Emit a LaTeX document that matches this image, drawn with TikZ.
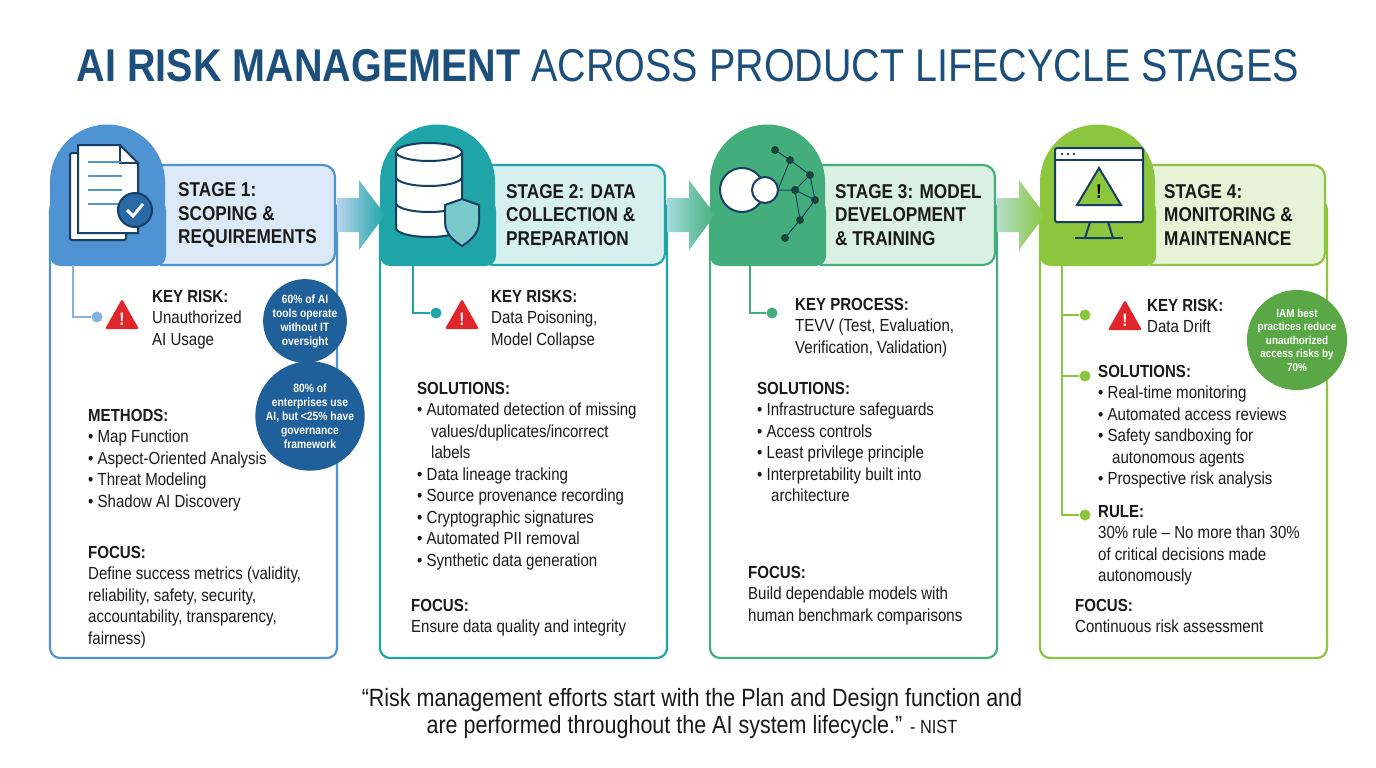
\documentclass[tikz,border=0pt]{standalone}
\usepackage{fontspec}
\usepackage{graphicx}
\setmainfont{Liberation Sans}[FakeStretch=0.86]
\definecolor{cA}{HTML}{4F93D3}\definecolor{lA}{HTML}{DCEAF8}
\definecolor{cB}{HTML}{1FA5A8}\definecolor{lB}{HTML}{D6EFEF}
\definecolor{cC}{HTML}{43AE7C}\definecolor{lC}{HTML}{D9F0E3}
\definecolor{cD}{HTML}{8CC63F}\definecolor{lD}{HTML}{E6F3D6}
\definecolor{navy}{HTML}{1D4F7C}\definecolor{dblue}{HTML}{1F5F9A}
\definecolor{gcirc}{HTML}{5AA845}\definecolor{warn}{HTML}{E0262B}
\definecolor{txt}{HTML}{1A1A1A}
\tikzset{
 body/.style={font=\fontsize{17.5}{21.5}\selectfont,text=txt,align=left,anchor=north west,inner sep=0pt},
 head/.style={font=\fontsize{20}{23.5}\selectfont\bfseries,text=txt,align=left,anchor=west,inner sep=0pt},
 stat/.style={circle,text=white,align=center,font=\fontsize{12}{14}\selectfont\bfseries,inner sep=0pt},
 dot/.style={circle,inner sep=0pt,minimum size=11pt},
}
\newcommand{\warnsign}[2]{%
 \fill[warn,rounded corners=2pt] ($(#1)+(0,-17)$) -- ($(#1)+(17,13)$) -- ($(#1)+(-17,13)$) -- cycle;
 \node[text=white,font=\fontsize{18}{18}\selectfont\bfseries] (#2) at ($(#1)+(0,3)$) {!};}
\usetikzlibrary{calc}
\begin{document}
\begin{tikzpicture}[x=1pt,y=-1pt]
\useasboundingbox[fill=white] (0,0) rectangle (1376,768);
% title
\node (title) at (688,66) {\resizebox{1222pt}{!}{\color{navy}\fontsize{40}{40}\selectfont\textbf{AI RISK MANAGEMENT} ACROSS PRODUCT LIFECYCLE STAGES}};
% cards
\foreach \x/\c/\l in {50/cA/lA,380/cB/lB,710/cC/lC,1040/cD/lD}{
 \draw[\c,line width=2.2pt,rounded corners=10pt] (\x,200) rectangle ({\x+287},658);
 \draw[\c,line width=2.2pt,fill=\l,rounded corners=12pt] ({\x+110},165) -- ({\x+285},165) -- ({\x+285},265) -- ({\x+110},265);
 \fill[\c,rounded corners=10pt] ({\x},200) rectangle ({\x+116},266);
 \fill[\c] (\x,240) -- (\x,182) arc (180:360:57.5) -- ({\x+115},240) -- cycle;
}
% arrows
\foreach \x/\a/\b in {337/cA/cB,667/cB/cC,997/cC/cD}{
 \shade[left color=\a!40,right color=\b] (\x,198) -- ({\x+22},198) -- ({\x+22},180) -- ({\x+48},215) -- ({\x+22},250) -- ({\x+22},232) -- (\x,232) -- cycle;
}
% headers
\node[head] (h1) at (178,215) {STAGE 1:\\SCOPING \&\\REQUIREMENTS};
\node[head] (h2) at (506,215) {STAGE 2: DATA\\COLLECTION \&\\PREPARATION};
\node[head] (h3) at (835,215) {STAGE 3: MODEL\\DEVELOPMENT\\\& TRAINING};
\node[head] (h4) at (1164,215) {STAGE 4:\\MONITORING \&\\MAINTENANCE};
\begin{scope}[line width=2pt,draw=navy!80!black]
% icon 1: documents
\draw[fill=white,rounded corners=2pt] (70,153) rectangle (126,240);
\draw[fill=white] (78,145) -- (120,145) -- (138,163) -- (138,233) -- (78,233) -- cycle;
\draw (120,145) -- (120,163) -- (138,163);
\foreach \y in {162,176,190,204}{\draw[cA,line width=1.5pt] (88,\y) -- (122,\y);}
\draw[fill=dblue!80!cA] (135,210) circle (17);
\draw[white,line width=3pt] (127,210) -- (133,216) -- (143,204);
% icon 2: database cylinder
\draw[fill=white] (396,152) -- (396,228) arc (180:0:33 and 9) -- (462,152);
\draw[fill=white] (429,152) ellipse (33 and 9);
\draw (396,177) arc (180:0:33 and 9) (396,203) arc (180:0:33 and 9);
\draw[fill=cB!60] (445,205) -- (462,199) -- (479,205) -- (479,222) .. controls (479,235) and (468,242) .. (462,246) .. controls (456,242) and (445,235) .. (445,222) -- cycle;
% icon 3: brain/network
\draw[fill=white] (742,190) circle (22);
\draw[fill=white] (765,190) circle (13);
\foreach \p in {(790,160),(810,175),(815,200),(800,220),(785,238),(775,150),(795,190)}{\fill[cC!40!black] \p circle (4);}
\draw[line width=1pt] (778,190) -- (790,160) -- (810,175) -- (815,200) -- (800,220) -- (785,238) (790,160)--(775,150) (778,190)--(795,190)--(815,200) (795,190)--(800,220) (795,190)--(810,175);
% icon 4: monitor
\draw[fill=white,rounded corners=2pt] (1055,148) rectangle (1143,222);
\draw (1055,160) -- (1143,160);
\foreach \x in {1062,1068,1074}{\fill (\x,154) circle (1.2);}
\draw[fill=cD] (1099,168) -- (1121,205) -- (1077,205) -- cycle;
\node[font=\fontsize{20}{20}\selectfont\bfseries] (ex4) at (1099,192) {!};
\draw (1090,222) -- (1085,238) -- (1113,238) -- (1108,222);
\draw (1075,238) -- (1123,238);
\end{scope}
% connectors
\coordinate (c1a) at (73,265);\node[dot,fill=cA!70] (d1) at (97,317) {};
\draw[cA!70,line width=2pt] (c1a) |- (d1);
\coordinate (c2a) at (413,265);\node[dot,fill=cB] (d2) at (436,313) {};
\draw[cB,line width=2pt] (c2a) |- (d2);
\coordinate (c3a) at (750,265);\node[dot,fill=cC] (d3) at (772,313) {};
\draw[cC,line width=2pt] (c3a) |- (d3);
\coordinate (c4a) at (1062,265);
\node[dot,fill=cD] (d4a) at (1085,315) {};\node[dot,fill=cD] (d4b) at (1085,376) {};\node[dot,fill=cD] (d4c) at (1085,515) {};
\draw[cD,line width=2pt] (c4a) |- (d4a) (c4a) |- (d4b) (c4a) |- (d4c);
% warnings
\warnsign{122,316}{w1}\warnsign{462,316}{w2}\warnsign{1125,317}{w4}
% card 1 text
\node[body] (k1) at (152,290) {\textbf{KEY RISK:}\\Unauthorized\\AI Usage};
\node[stat,fill=dblue,minimum size=76pt] (s1) at (305,321) {60\% of AI\\tools operate\\without IT\\oversight};
\node[stat,fill=dblue,minimum size=82pt] (s2) at (310,416) {80\% of\\enterprises use\\AI, but <25\% have\\governance\\framework};
\node[body] (m1) at (88,409) {\textbf{METHODS:}\\• Map Function\\• Aspect-Oriented Analysis\\• Threat Modeling\\• Shadow AI Discovery};
\node[body] (f1) at (88,546) {\textbf{FOCUS:}\\Define success metrics (validity,\\reliability, safety, security,\\accountability, transparency,\\fairness)};
% card 2 text
\node[body] (k2) at (491,290) {\textbf{KEY RISKS:}\\Data Poisoning,\\Model Collapse};
\node[body] (sol2) at (417,382) {\textbf{SOLUTIONS:}\\• Automated detection of missing\\\hspace*{0.8em}values/duplicates/incorrect\\\hspace*{0.8em}labels\\• Data lineage tracking\\• Source provenance recording\\• Cryptographic signatures\\• Automated PII removal\\• Synthetic data generation};
\node[body] (f2) at (411,599) {\textbf{FOCUS:}\\Ensure data quality and integrity};
% card 3 text
\node[body] (k3) at (795,298) {\textbf{KEY PROCESS:}\\TEVV (Test, Evaluation,\\Verification, Validation)};
\node[body] (sol3) at (757,382) {\textbf{SOLUTIONS:}\\• Infrastructure safeguards\\• Access controls\\• Least privilege principle\\• Interpretability built into\\\hspace*{0.8em}architecture};
\node[body] (f3) at (748,566) {\textbf{FOCUS:}\\Build dependable models with\\human benchmark comparisons};
% card 4 text
\node[body] (k4) at (1147,299) {\textbf{KEY RISK:}\\Data Drift};
\node[stat,fill=gcirc,minimum size=84pt,font=\fontsize{11.5}{13.5}\selectfont\bfseries] (s4) at (1297,340) {IAM best\\practices reduce\\unauthorized\\access risks by\\70\%};
\node[body] (sol4) at (1098,365) {\textbf{SOLUTIONS:}\\• Real-time monitoring\\• Automated access reviews\\• Safety sandboxing for\\\hspace*{0.8em}autonomous agents\\• Prospective risk analysis};
\node[body] (r4) at (1098,505) {\textbf{RULE:}\\30\% rule – No more than 30\%\\of critical decisions made\\autonomously};
\node[body] (f4) at (1075,599) {\textbf{FOCUS:}\\Continuous risk assessment};
% quote
\node[font=\fontsize{25}{27}\selectfont,text=txt,align=center] (q) at (692,714) {“Risk management efforts start with the Plan and Design function and\\are performed throughout the AI system lifecycle.” {\fontsize{19}{19}\selectfont - NIST}};
\end{tikzpicture}
\end{document}
